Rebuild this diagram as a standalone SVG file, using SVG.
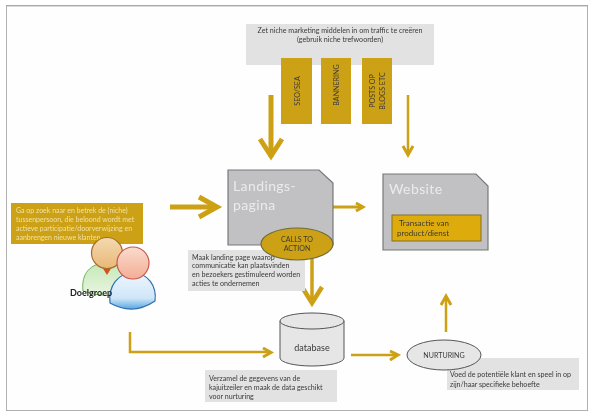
<svg xmlns="http://www.w3.org/2000/svg" width="595" height="417" viewBox="0 0 595 417">
<style>
text{font-family:"Lato","Liberation Sans",sans-serif;font-size:7.100px;fill:#3a3a3a}
.cap{fill:#e2e2e2}
.gold{fill:#cda112}
.ln{stroke:#cda112;fill:none}
.pg{fill:#c1c1c3;stroke:#77787b;stroke-width:1.2}
.big{font-size:14px;fill:#ebebeb;letter-spacing:.4px}
.wh{fill:#f1e0a6;font-size:7px}
.c{text-anchor:middle}
</style>
<defs>
<filter id="soft" x="0" y="0" width="100%" height="100%"><feGaussianBlur stdDeviation="0.4"/></filter>
<linearGradient id="gh" x1="0" y1="0" x2="0" y2="1"><stop offset="0" stop-color="#f3d9b0"/><stop offset="1" stop-color="#eab878"/></linearGradient>
<linearGradient id="ph" x1="0" y1="0" x2="0" y2="1"><stop offset="0" stop-color="#fadccd"/><stop offset="1" stop-color="#f3ad95"/></linearGradient>
<linearGradient id="gb" x1="0" y1="0" x2="0" y2="1"><stop offset="0" stop-color="#c6e8b8"/><stop offset="1" stop-color="#e8f5e0"/></linearGradient>
<linearGradient id="bb" x1="0" y1="0" x2="0" y2="1"><stop offset="0" stop-color="#eef6fd"/><stop offset="0.7" stop-color="#cfe6f9"/><stop offset="1" stop-color="#5aa7e0"/></linearGradient>
</defs>
<rect width="595" height="417" fill="#fff"/>
<g filter="url(#soft)">
<rect x="6" y="5.500" width="582" height="405.500" fill="#fefefe" stroke="#a8a8a8" stroke-width="1.800"/>

<g id="connectors">
<path class="ln" stroke-width="5" d="M271 95V157"/><path class="ln" stroke-width="5" d="M260 139L271 156L282 139"/>
<path class="ln" stroke-width="2.500" d="M408 95V155"/><path class="ln" stroke-width="3" d="M403 146L408 155L413 146"/>
<path class="ln" stroke-width="5" d="M170 207H217"/><path class="ln" stroke-width="5" d="M199 197L217 207L199 217"/>
<path class="ln" stroke-width="3" d="M321 207H363"/><path class="ln" stroke-width="3" d="M356 203L363 207L356 211"/>
<path class="ln" stroke-width="3.500" d="M312 258V304"/><path class="ln" stroke-width="4.500" d="M302 287L312 303L322 287"/>
<path class="ln" stroke-width="2.500" d="M130 332V352H270"/><path class="ln" stroke-width="3" d="M263 348L271 352.500L263 357"/>
<path class="ln" stroke-width="2.500" d="M351 355H397"/><path class="ln" stroke-width="3" d="M390 351L398 355L390 360"/>
<path class="ln" stroke-width="2.500" d="M446 332V297"/><path class="ln" stroke-width="3" d="M441 305L446 296L451 305"/>
</g>

<g id="traffic">
<rect class="cap" x="246" y="24" width="188" height="41"/>
<text class="c" x="340" y="32.500">Zet niche marketing middelen in om traffic te creëren</text>
<text class="c" x="340" y="42">(gebruik niche trefwoorden)</text>
</g>
<g id="seo"><rect class="gold" x="281" y="58" width="31" height="66"/><text class="c" transform="translate(300 91) rotate(-90)">SEO/SEA</text></g>
<g id="bannering"><rect class="gold" x="321" y="58" width="30" height="66"/><text class="c" transform="translate(339 85) rotate(-90)">BANNERING</text></g>
<g id="posts"><rect class="gold" x="362" y="58" width="30" height="66"/><text class="c" transform="translate(375 91) rotate(-90)">POSTS OP</text><text class="c" transform="translate(385 91) rotate(-90)">BLOGS ETC</text></g>

<g id="landing">
<path class="pg" d="M228 170H319L333 183V245H228Z"/>
<text class="big" x="233" y="191">Landings-</text>
<text class="big" x="233" y="210">pagina</text>
</g>
<g id="landing-caption">
<rect class="cap" x="188" y="250" width="117" height="41"/>
<text x="192" y="259.500">Maak landing page waarop</text>
<text x="192" y="268">communicatie kan plaatsvinden</text>
<text x="192" y="276.500">en bezoekers gestimuleerd worden</text>
<text x="192" y="286">acties te ondernemen</text>
</g>
<g id="cta">
<ellipse class="gold" cx="297" cy="244" rx="36" ry="16" stroke="#6f6a3a" stroke-width="1.200"/>
<text class="c" x="297" y="242">CALLS TO</text>
<text class="c" x="297" y="251">ACTION</text>
</g>

<g id="website">
<path class="pg" d="M383 174H476L488 186V250H383Z"/>
<text class="big" x="389" y="194">Website</text>
<rect x="392" y="215" width="89" height="26" fill="#deab0b" stroke="#85702a" stroke-width="1"/>
<text x="399" y="226" style="font-size:8px">Transactie van</text>
<text x="397" y="236" style="font-size:8px">product/dienst</text>
</g>

<g id="doelgroep">
<rect class="gold" x="11" y="203" width="132" height="41"/>
<text class="wh" x="16" y="213">Ga op zoek naar en betrek de (niche)</text>
<text class="wh" x="16" y="222">tussenpersoon, die beloond wordt met</text>
<text class="wh" x="16" y="231">actieve participatie/doorverwijzing en</text>
<text class="wh" x="16" y="240">aanbrengen nieuwe klanten</text>
<path d="M83 291C81 274 90 263 107 263C124 263 132 274 130 291Q107 300 83 291Z" fill="url(#gb)" stroke="#6cb356"/>
<path d="M102 267L107 275L112 267Z" fill="#d9501e"/>
<circle cx="107" cy="253" r="15.500" fill="url(#gh)" stroke="#a5702a" stroke-width="1.200"/>
<path d="M110 303C108 286 118 273 133 273C148 273 157 286 155 301Q133 316 110 303Z" fill="url(#bb)" stroke="#2d6fb3" stroke-width="1.200"/>
<circle cx="133" cy="263" r="16" fill="url(#ph)" stroke="#c9574a" stroke-width="1.200"/>
<text x="70" y="296" style="font-size:9px;font-weight:700;fill:#222">Doelgroep</text>
</g>

<g id="database">
<path d="M280 321V358A32 8 0 0 0 344 358V321Z" fill="#e6e6e6" stroke="#555" stroke-width="1"/>
<ellipse cx="312" cy="321" rx="32" ry="8" fill="#e6e6e6" stroke="#555" stroke-width="1"/>
<text class="c" x="312" y="351" style="font-size:9px">database</text>
</g>
<g id="database-caption">
<rect class="cap" x="205" y="370" width="132" height="32"/>
<text x="209" y="380.500">Verzamel de gegevens van de</text>
<text x="209" y="389.500">kajuitzeiler en maak de data geschikt</text>
<text x="209" y="398.500">voor nurturing</text>
</g>

<g id="nurturing-caption">
<rect class="cap" x="447" y="358" width="132" height="32"/>
<text x="450" y="377">Voed de potentiële klant en speel in op</text>
<text x="450" y="387">zijn/haar specifieke behoefte</text>
</g>
<g id="nurturing">
<ellipse cx="444" cy="355" rx="37" ry="15" fill="#e6e6e6" stroke="#555" stroke-width="1"/>
<text class="c" x="444" y="358">NURTURING</text>
</g>
</g>
</svg>
